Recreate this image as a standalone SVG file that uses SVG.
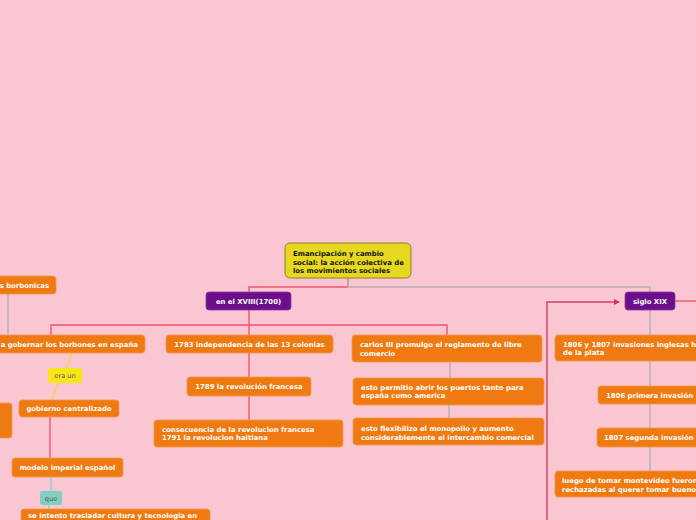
<svg xmlns="http://www.w3.org/2000/svg" width="696" height="520" viewBox="0 0 696 520">
<style>
.o{fill:#ef7a11;stroke:#f59b4f;stroke-width:0.8}
.p{fill:#6c0e8a;stroke:#8a3aa6;stroke-width:0.8}
.t{font-family:"DejaVu Sans",Verdana,sans-serif;font-weight:bold;font-size:6.9px;fill:#ffffff}
.k{font-family:"DejaVu Sans",Verdana,sans-serif;font-size:6.6px;fill:#555555}
.c{fill:none;stroke-width:1.4}
.r{stroke:#f2566c}
.g{stroke:#b4b0b2}
</style>
<defs>
<marker id="ah" markerWidth="6" markerHeight="6" refX="5" refY="3" orient="auto" markerUnits="userSpaceOnUse">
<path d="M0,0 L6,3 L0,6 z" fill="#d0305a"/>
</marker>
</defs>
<rect width="696" height="520" fill="#f9c6d1"/>
<g id="connectors">
<path class="c r" d="M348,278 V287 H249 V293"/>
<path class="c g" d="M348,278 V287 H650 V293"/>
<path class="c r" d="M249,310 V325 H51 V335"/>
<path class="c r" d="M249,325 V335"/>
<path class="c r" d="M249,325 H447 V335"/>
<path class="c g" d="M650,310 V335"/>
<path class="c r" d="M675,301 H696"/>
<path class="c" stroke="#d0405e" d="M547,520 V302 H619" marker-end="url(#ah)"/>
<path class="c g" d="M8,294 V335"/>
<path class="c" stroke="#f3d848" d="M72,353 L66,368"/>
<path class="c" stroke="#f3d848" d="M58,383 L52,400"/>
<path class="c r" d="M50,417 V458"/>
<path class="c" stroke="#93cdcb" d="M51,477 V491"/>
<path class="c" stroke="#93cdcb" d="M49,505 V509"/>
<path class="c r" d="M249,353 V377"/>
<path class="c r" d="M249,396 V420"/>
<path class="c g" d="M450,362 V378"/>
<path class="c g" d="M449,405 V418"/>
<path class="c g" d="M650,361 V386"/>
<path class="c g" d="M650,404 V428"/>
<path class="c g" d="M650,447 V471"/>
</g>
<g id="central">
<rect x="285" y="243" width="126" height="35" rx="5" fill="#e6d81e" stroke="#857530" stroke-width="0.9"/>
<text class="t" style="fill:#111" x="293" y="256">Emancipación y cambio</text>
<text class="t" style="fill:#111" x="293" y="264.5">social: la acción colectiva de</text>
<text class="t" style="fill:#111" x="293" y="273">los movimientos sociales</text>
</g>
<g id="xviii">
<rect class="p" x="206" y="292" width="85" height="18" rx="3"/>
<text class="t" x="248.5" y="303.5" text-anchor="middle">en el XVIII(1700)</text>
</g>
<g id="xix">
<rect class="p" x="625" y="292" width="50" height="18" rx="3"/>
<text class="t" x="650" y="303.5" text-anchor="middle">siglo XIX</text>
</g>
<g id="borbonicas">
<rect class="o" x="-10" y="276" width="66" height="18" rx="3"/>
<text class="t" x="49" y="287.5" text-anchor="end">s borbonicas</text>
</g>
<g id="gobernar">
<rect class="o" x="-10" y="335" width="155" height="18" rx="3"/>
<text class="t" x="138" y="346.5" text-anchor="end">a gobernar los borbones en españa</text>
</g>
<g id="eraun">
<rect x="48" y="368" width="34" height="15" rx="2" fill="#f7e51a"/>
<text class="k" x="65" y="378" text-anchor="middle">era un</text>
</g>
<g id="leftbox">
<rect class="o" x="-10" y="403" width="22" height="35" rx="3"/>
</g>
<g id="gobierno">
<rect class="o" x="19" y="400" width="100" height="17" rx="3"/>
<text class="t" x="69" y="411" text-anchor="middle">gobierno centralizado</text>
</g>
<g id="modelo">
<rect class="o" x="12" y="458" width="111" height="19" rx="3"/>
<text class="t" x="67.5" y="470" text-anchor="middle">modelo imperial español</text>
</g>
<g id="que">
<rect x="40" y="491" width="22" height="14" rx="2" fill="#7fcfc2"/>
<text class="k" x="51" y="500.5" text-anchor="middle">que</text>
</g>
<g id="intento">
<rect class="o" x="21" y="509" width="189" height="20" rx="3"/>
<text class="t" x="28" y="518.3">se intento trasladar cultura y tecnologia en</text>
</g>
<g id="n1783">
<rect class="o" x="166" y="335" width="167" height="18" rx="3"/>
<text class="t" x="249.5" y="346.5" text-anchor="middle">1783 independencia de las 13 colonias</text>
</g>
<g id="n1789">
<rect class="o" x="187" y="377" width="124" height="19" rx="3"/>
<text class="t" x="249" y="389" text-anchor="middle">1789 la revolución francesa</text>
</g>
<g id="consecuencia">
<rect class="o" x="154" y="420" width="189" height="27" rx="3"/>
<text class="t" x="162" y="431.5">consecuencia de la revolucion francesa</text>
<text class="t" x="162" y="440">1791 la revolucion haitiana</text>
</g>
<g id="carlos">
<rect class="o" x="352" y="335" width="190" height="27" rx="3"/>
<text class="t" x="360" y="347">carlos III promulgo el reglamento de libre</text>
<text class="t" x="360" y="355.5">comercio</text>
</g>
<g id="puertos">
<rect class="o" x="353" y="378" width="191" height="27" rx="3"/>
<text class="t" x="361" y="389.5">esto permitio abrir los puertos tanto para</text>
<text class="t" x="361" y="398">españa como america</text>
</g>
<g id="flexibilizo">
<rect class="o" x="353" y="418" width="191" height="27" rx="3"/>
<text class="t" x="361" y="431">esto flexibilizo el monopolio y aumento</text>
<text class="t" x="361" y="439.5">considerablemente el intercambio comercial</text>
</g>
<g id="invasiones">
<rect class="o" x="555" y="335" width="160" height="26" rx="3"/>
<text class="t" x="563" y="346.5">1806 y 1807 invasiones inglesas h</text>
<text class="t" x="563" y="355">de la plata</text>
</g>
<g id="primera">
<rect class="o" x="598" y="386" width="110" height="18" rx="3"/>
<text class="t" x="606" y="397.5">1806 primera invasión</text>
</g>
<g id="segunda">
<rect class="o" x="597" y="428" width="110" height="19" rx="3"/>
<text class="t" x="604" y="439.5">1807 segunda invasión</text>
</g>
<g id="luego">
<rect class="o" x="555" y="471" width="160" height="26" rx="3"/>
<text class="t" x="562" y="483">luego de tomar montevideo fueron</text>
<text class="t" x="562" y="491.5">rechazadas al querer tomar buenos</text>
</g>
</svg>
